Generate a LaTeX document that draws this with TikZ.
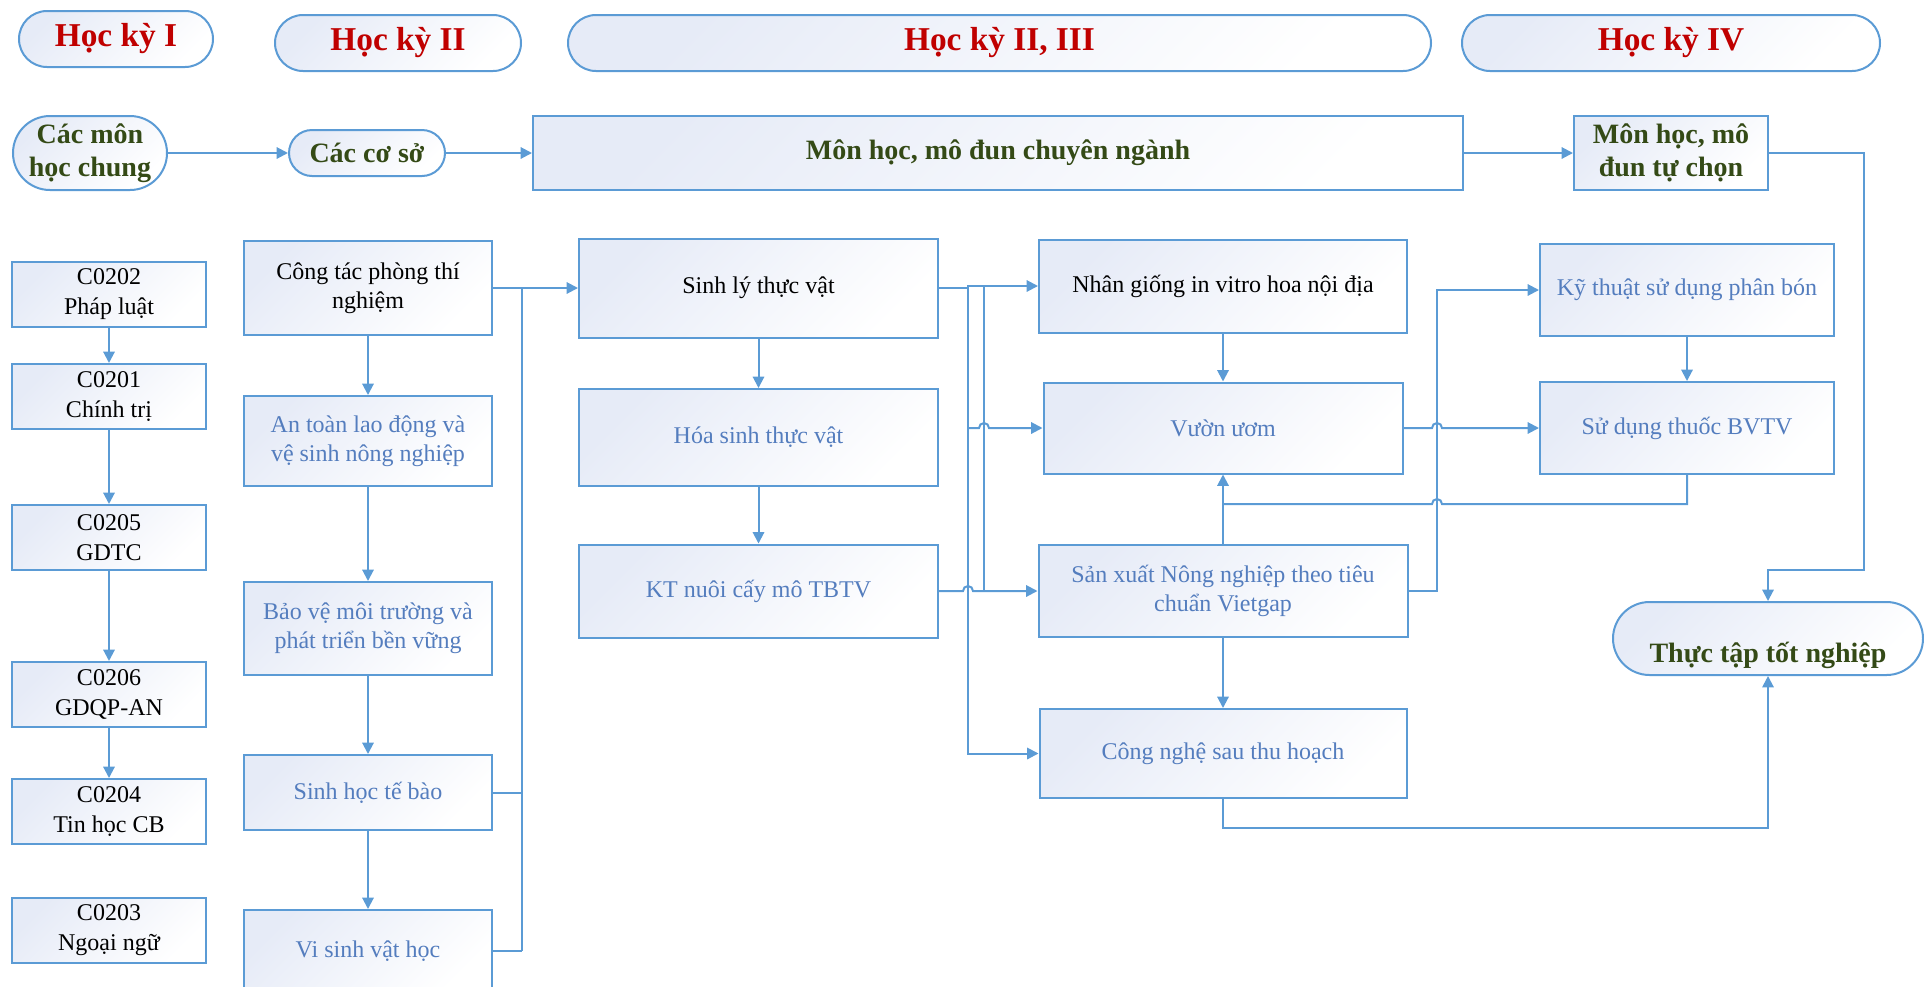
\documentclass[tikz,border=0pt]{standalone}
\usepackage{fontspec}
\setmainfont{Liberation Serif}
\usetikzlibrary{arrows.meta}
\definecolor{lineblue}{RGB}{91,155,213}
\definecolor{boxfill}{RGB}{230,235,247}
\definecolor{headred}{RGB}{192,0,0}
\definecolor{labgreen}{RGB}{52,74,22}
\definecolor{txtblue}{RGB}{84,125,190}

\begin{document}
\begin{tikzpicture}[x=0.75pt,y=0.75pt,yscale=-1,xscale=1,
  box/.style={draw=lineblue, line width=1.5pt, top color=boxfill, bottom color=white, shading angle=45, inner sep=2pt, align=center, font=\fontsize{18}{22}\selectfont},
  bluebox/.style={box, text=txtblue},
  pill/.style={box, rounded corners=#1},
  head/.style={pill=21pt, minimum height=42pt, text=headred, font=\fontsize{25}{30}\selectfont\bfseries},
  lab/.style={text=labgreen, font=\fontsize{21}{25}\selectfont\bfseries},
  conn/.style={draw=lineblue, line width=1.5pt},
  arr/.style={conn, -{Triangle[length=8.5pt,width=8.5pt]}}]
\useasboundingbox (0,0) rectangle (1924,986);

%Shape: Pills (semesters)
\node [head, minimum width=145.5pt] (hk1) at (116,39) {Học kỳ I};
\node [head, minimum width=184.5pt] (hk2) at (398,43) {Học kỳ II};
\node [head, minimum width=647.25pt] (hk23) at (999.5,43) {Học kỳ II, III};
\node [head, minimum width=313.5pt] (hk4) at (1671,43) {Học kỳ IV};

%Shape: Main row
\node [pill=27.75pt, lab, minimum width=115.5pt, minimum height=55.5pt] (chung) at (90,153) {Các môn\\học chung};
\node [pill=17.25pt, lab, minimum width=117pt, minimum height=34.5pt] (coso) at (367,153) {Các cơ sở};
\node [box, lab, minimum width=697.5pt, minimum height=55.5pt] (chuyennganh) at (998,153) {Môn học, mô đun chuyên ngành};
\node [box, lab, minimum width=145.5pt, minimum height=55.5pt] (tuchon) at (1671,153) {Môn học, mô\\đun tự chọn};

%Shape: General subjects
\node [box, minimum width=145.5pt, minimum height=48.75pt] (c0202) at (109,294) {C0202\\Pháp luật};
\node [box, minimum width=145.5pt, minimum height=48.75pt] (c0201) at (109,396.5) {C0201\\Chính trị};
\node [box, minimum width=145.5pt, minimum height=48.75pt] (c0205) at (109,537.5) {C0205\\GDTC};
\node [box, minimum width=145.5pt, minimum height=48.75pt] (c0206) at (109,694.5) {C0206\\GDQP-AN};
\node [box, minimum width=145.5pt, minimum height=48.75pt] (c0204) at (109,811.5) {C0204\\Tin học CB};
\node [box, minimum width=145.5pt, minimum height=48.75pt] (c0203) at (109,930) {C0203\\Ngoại ngữ};

%Shape: Basic subjects
\node [box, minimum width=186pt, minimum height=70.5pt] (congtac) at (368,288) {Công tác phòng thí\\nghiệm};
\node [bluebox, minimum width=186pt, minimum height=67.5pt] (antoan) at (368,441) {An toàn lao động và\\vệ sinh nông nghiệp};
\node [bluebox, minimum width=186pt, minimum height=69.75pt] (baove) at (368,628.5) {Bảo vệ môi trường và\\phát triển bền vững};
\node [bluebox, minimum width=186pt, minimum height=56.25pt] (sinhhoc) at (368,792.5) {Sinh học tế bào};
\node [bluebox, minimum width=186pt, minimum height=61.5pt] (visinh) at (368,951) {Vi sinh vật học};

%Shape: Specialised subjects
\node [box, minimum width=269.25pt, minimum height=74.25pt] (sinhly) at (758.5,288) {Sinh lý thực vật};
\node [bluebox, minimum width=269.25pt, minimum height=72.75pt] (hoasinh) at (758.5,437.5) {Hóa sinh thực vật};
\node [bluebox, minimum width=269.25pt, minimum height=69.75pt] (ktnuoi) at (758.5,591) {KT nuôi cấy mô TBTV};

\node [box, minimum width=276pt, minimum height=69.75pt] (nhangiong) at (1223,286) {Nhân giống in vitro hoa nội địa};
\node [bluebox, minimum width=269.25pt, minimum height=68.25pt] (vuonuom) at (1223,428) {Vườn ươm};
\node [bluebox, minimum width=276.75pt, minimum height=69pt] (sanxuat) at (1223,591) {Sản xuất Nông nghiệp theo tiêu\\chuẩn Vietgap};
\node [bluebox, minimum width=275.25pt, minimum height=66.75pt] (congnghe) at (1223,753.5) {Công nghệ sau thu hoạch};

%Shape: Elective subjects
\node [bluebox, minimum width=220.5pt, minimum height=69pt] (kythuat) at (1687,290) {Kỹ thuật sử dụng phân bón};
\node [bluebox, minimum width=220.5pt, minimum height=69pt] (bvtv) at (1687,428) {Sử dụng thuốc BVTV};

%Shape: Internship
\node [pill=27.4pt, lab, minimum width=232.5pt, minimum height=54.75pt, text height=36pt, text depth=0pt] (thuctap) at (1768,638.5) {Thực tập tốt nghiệp};

% bus lines
\coordinate (busL) at (522,0);
\coordinate (busA) at (968,0);
\coordinate (busB) at (984,0);
\coordinate (busR) at (1437,0);
\coordinate (busE) at (1864,0);
\coordinate (midlevel) at (0,570);
\coordinate (bvlevel) at (0,504);
\coordinate (lowlevel) at (0,828);

%Straight Lines: main row
\draw [arr] (chung.east) -- (coso.west);
\draw [arr] (coso.east) -- (chuyennganh.west);
\draw [arr] (chuyennganh.east) -- (tuchon.west);
\draw [arr] (tuchon.east) -| (busE |- midlevel) -| (thuctap.north);

%Straight Lines: general subjects
\draw [arr] (c0202) -- (c0201);
\draw [arr] (c0201) -- (c0205);
\draw [arr] (c0205) -- (c0206);
\draw [arr] (c0206) -- (c0204);

%Straight Lines: basic subjects
\draw [arr] (congtac) -- (antoan);
\draw [arr] (antoan) -- (baove);
\draw [arr] (baove) -- (sinhhoc);
\draw [arr] (sinhhoc) -- (visinh);
\draw [arr] (congtac.east) -- (sinhly.west);
\draw [conn] (busL |- congtac.east) -- (busL |- visinh.east);
\draw [conn] (sinhhoc.east) -- (busL |- sinhhoc.east);
\draw [conn] (visinh.east) -- (busL |- visinh.east);

%Straight Lines: specialised subjects
\draw [arr] (sinhly) -- (hoasinh);
\draw [arr] (hoasinh) -- (ktnuoi);
\draw [arr] (sinhly.east) -- (busA |- sinhly.east) |- (nhangiong.west);
\draw [conn] (busB |- nhangiong.west) -- (busB |- sanxuat.west);
\draw [arr] (busA |- nhangiong.west) -- (busA |- congnghe.west) -- (congnghe.west);
\draw [arr] (busA |- vuonuom.west) -- ([xshift=-3.75pt]busB |- vuonuom.west) arc [start angle=180, end angle=360, radius=5] -- (vuonuom.west);
\draw [arr] (ktnuoi.east) -- ([xshift=-3.75pt]busA |- ktnuoi.east) arc [start angle=180, end angle=360, radius=5] -- (sanxuat.west);
\draw [arr] (nhangiong) -- (vuonuom);
\draw [arr] (sanxuat) -- (vuonuom);
\draw [arr] (sanxuat) -- (congnghe);

%Straight Lines: elective subjects
\draw [arr] (vuonuom.east) -- ([xshift=-3.75pt]busR |- vuonuom.east) arc [start angle=180, end angle=360, radius=5] -- (bvtv.west);
\draw [arr] (sanxuat.east) -- (busR |- sanxuat.east) |- (kythuat.west);
\draw [arr] (kythuat) -- (bvtv);
\draw [conn] (bvtv.south) |- ([xshift=3.75pt]busR |- bvlevel) arc [start angle=0, end angle=-180, radius=5] -- (vuonuom.south |- bvlevel);
\draw [arr] (congnghe.south) |- (thuctap.south |- lowlevel) -- (thuctap.south);

\end{tikzpicture}
\end{document}
